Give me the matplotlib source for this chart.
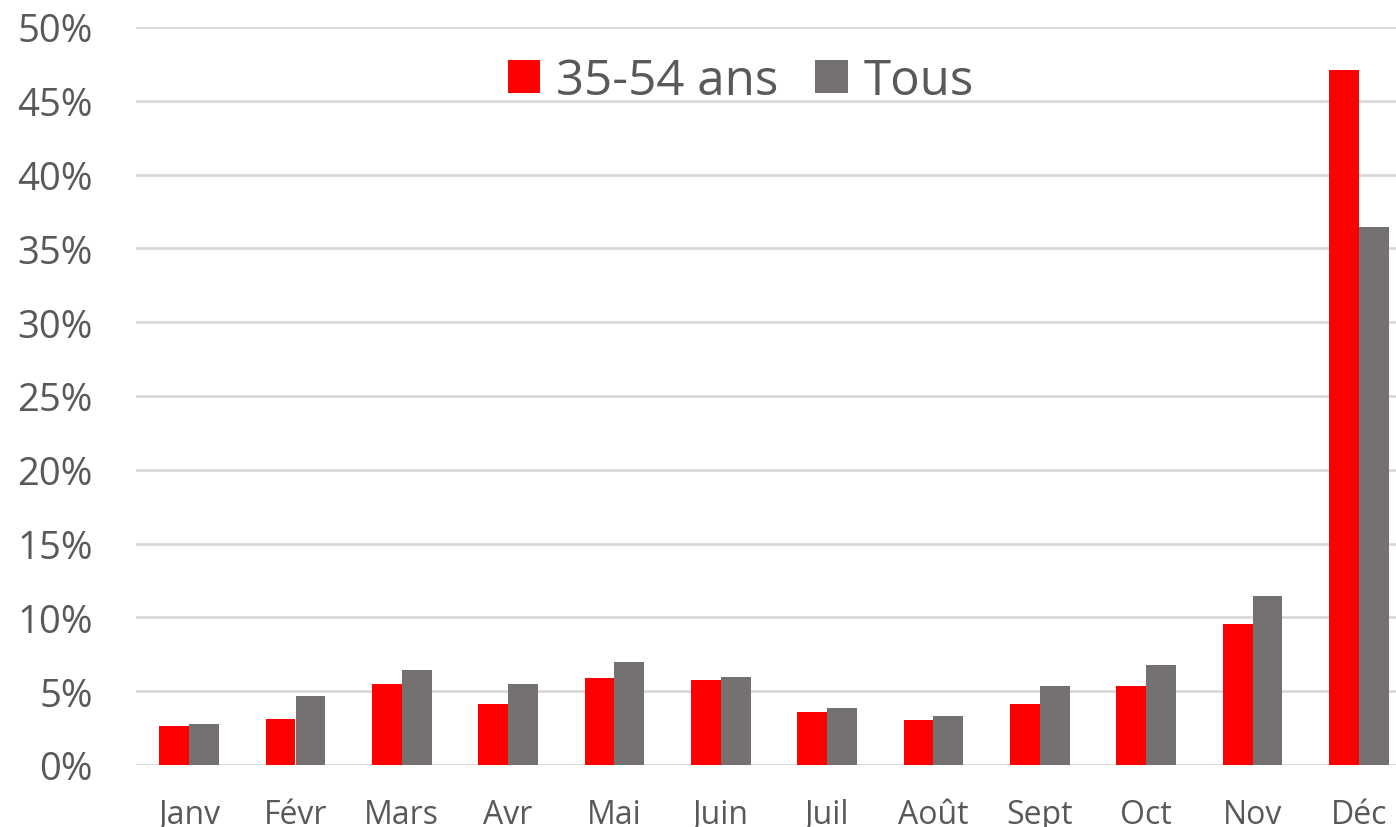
import matplotlib
matplotlib.use("Agg")
import matplotlib.pyplot as plt
import numpy as np
from matplotlib.patches import Patch

months = ["Janv", "Févr", "Mars", "Avr", "Mai", "Juin", "Juil", "Août", "Sept", "Oct", "Nov", "Déc"]
age_35_54 = [2.65, 3.1, 5.48, 4.13, 5.9, 5.76, 3.6, 3.07, 4.14, 5.34, 9.58, 47.1]
tous = [2.79, 4.68, 6.43, 5.48, 6.96, 5.99, 3.86, 3.33, 5.34, 6.78, 11.43, 36.48]
series_names = ["35-54 ans", "Tous"]
yticks = [0, 5, 10, 15, 20, 25, 30, 35, 40, 45, 50]

plt.rcParams['font.family'] = ['Open Sans', 'DejaVu Sans']

fig = plt.figure(figsize=(13.96, 8.28), dpi=100)
ax = fig.add_axes([136/1396, 1-766/828, 1276/1396, 738/828])

red = "#ff0000"
grey = "#767171"
x = np.arange(len(months))
w = 0.28
ax.bar(x - w/2, age_35_54, width=w, color=red, zorder=3)
ax.bar(x + w/2, tous, width=w, color=grey, zorder=3)

ax.set_xlim(-0.5, len(months) - 0.5)
ax.set_ylim(0, 50)
ax.set_yticks(yticks)
ax.set_yticklabels([f"{t}%" for t in yticks])
ax.set_xticks(x)
ax.set_xticklabels(months)
ax.grid(axis='y', color="#d9d9d9", linewidth=2.0, zorder=0)
ax.grid(axis='x', visible=False)
for s in ax.spines.values():
    s.set_visible(False)
ax.tick_params(axis='y', length=0, pad=31, labelsize=27.5, labelcolor="#595959")
ax.tick_params(axis='x', length=0, pad=24, labelsize=23, labelcolor="#595959")

handles = [Patch(facecolor=red), Patch(facecolor=grey)]
leg = fig.legend(handles, series_names, loc='center', bbox_to_anchor=(741/1396, 1-82/828),
                 ncol=2, frameon=False, fontsize=35.5, handlelength=0.65, handleheight=0.65,
                 handletextpad=0.33, columnspacing=0.75, borderpad=0, borderaxespad=0)
for t in leg.get_texts():
    t.set_color("#595959")

fig.savefig("out.png", dpi=100)
